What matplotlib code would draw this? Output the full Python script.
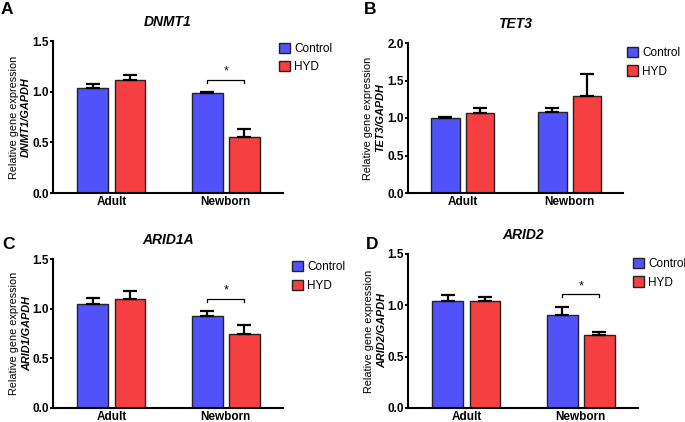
import numpy as np
import matplotlib
matplotlib.use("Agg")
import matplotlib.pyplot as plt
from matplotlib.patches import Patch

plt.rcParams['font.family'] = ['Liberation Sans', 'DejaVu Sans']

groups = ["Adult", "Newborn"]
series = ["Control", "HYD"]
colors = ["#5252FB", "#F63F41"]

genes = ["DNMT1", "TET3", "ARID1A", "ARID2"]
ylabel_genes = ["DNMT1", "TET3", "ARID1", "ARID2"]
letters = ["A", "B", "C", "D"]

# mean values [Control, HYD] per group
dnmt1_ctrl = [1.04, 0.99]
dnmt1_hyd = [1.12, 0.55]
dnmt1_ctrl_err = [0.04, 0.01]
dnmt1_hyd_err = [0.04, 0.08]

tet3_ctrl = [1.00, 1.08]
tet3_hyd = [1.07, 1.30]
tet3_ctrl_err = [0.02, 0.05]
tet3_hyd_err = [0.06, 0.29]

arid1a_ctrl = [1.05, 0.93]
arid1a_hyd = [1.10, 0.74]
arid1a_ctrl_err = [0.06, 0.05]
arid1a_hyd_err = [0.08, 0.10]

arid2_ctrl = [1.04, 0.91]
arid2_hyd = [1.04, 0.71]
arid2_ctrl_err = [0.06, 0.07]
arid2_hyd_err = [0.04, 0.03]

ymax = [1.5, 2.0, 1.5, 1.5]
yticks = [[0, 0.5, 1.0, 1.5], [0, 0.5, 1.0, 1.5, 2.0], [0, 0.5, 1.0, 1.5], [0, 0.5, 1.0, 1.5]]
sig_y = [1.12, None, 1.10, 1.11]

data = [
    (dnmt1_ctrl, dnmt1_hyd, dnmt1_ctrl_err, dnmt1_hyd_err),
    (tet3_ctrl, tet3_hyd, tet3_ctrl_err, tet3_hyd_err),
    (arid1a_ctrl, arid1a_hyd, arid1a_ctrl_err, arid1a_hyd_err),
    (arid2_ctrl, arid2_hyd, arid2_ctrl_err, arid2_hyd_err),
]

W, H = 685, 422
fig = plt.figure(figsize=(W / 100, H / 100), dpi=100)

# axes boxes in pixels: left, right, top, bottom
boxes = [(53, 283, 41, 193), (408, 623, 43, 193), (53, 283, 259, 408), (408, 638, 254, 408)]
legend_pos = [(0.983, 0.99), (1.019, 0.975), (1.039, 0.985), (0.978, 0.975)]
letter_pos = [(1, 2), (364, 2), (2, 237), (366, 237)]
# x pixel of the two ylabel lines
ylab_x = [(14, 26), (368, 380), (14, 27), (369, 382)]

bw = 0.27
off = 0.163

for i, (l, r, t, b) in enumerate(boxes):
    ax = fig.add_axes([l / W, (H - b) / H, (r - l) / W, (b - t) / H])
    ctrl, hyd, ctrl_err, hyd_err = data[i]
    x = np.arange(len(groups))
    ax.bar(x - off, ctrl, bw, color=colors[0], edgecolor="#222222", linewidth=1, zorder=2)
    ax.bar(x + off, hyd, bw, color=colors[1], edgecolor="#222222", linewidth=1, zorder=2)
    ax.errorbar(x - off, ctrl, yerr=[np.zeros(2), ctrl_err], fmt="none", ecolor="black",
                elinewidth=1.6, capsize=5.2, capthick=1.6, zorder=3)
    ax.errorbar(x + off, hyd, yerr=[np.zeros(2), hyd_err], fmt="none", ecolor="black",
                elinewidth=1.6, capsize=5.2, capthick=1.6, zorder=3)

    ax.set_xlim(-0.51, 1.50)
    ax.set_ylim(0, ymax[i])
    ax.set_yticks(yticks[i])
    ax.set_yticklabels([f"{v:.1f}" for v in yticks[i]], fontweight="bold", fontsize=8.5)
    ax.set_xticks(x)
    ax.set_xticklabels(groups, fontweight="bold", fontsize=8.5)
    ax.tick_params(axis="x", length=0, pad=2)
    ax.tick_params(axis="y", length=2.2, width=1.4, pad=0.8)
    for s in ["top", "right"]:
        ax.spines[s].set_visible(False)
    for s in ["left", "bottom"]:
        ax.spines[s].set_linewidth(1.5)

    if sig_y[i] is not None:
        y0 = sig_y[i]
        d = 0.03 * ymax[i] / 1.5
        x1, x2 = 1 - off, 1 + off
        ax.plot([x1, x1, x2, x2], [y0 - d, y0, y0, y0 - d], color="black", lw=0.9, zorder=3)
        ax.text(1, y0 + 0.02, "*", ha="center", va="bottom", fontsize=9)

    ax.set_title(genes[i], fontsize=10, fontweight="bold", style="italic", pad=11)

    # two-line y label, placed in figure pixels
    yc = 1 - (t + b) / 2 / H
    fig.text(ylab_x[i][0] / W, yc, "Relative gene expression", rotation=90,
             ha="center", va="center", fontsize=7.8)
    fig.text(ylab_x[i][1] / W, yc, f"{ylabel_genes[i]}/GAPDH", rotation=90,
             ha="center", va="center", fontsize=7.8, style="italic", fontweight="bold")

    handles = [Patch(facecolor=colors[k], edgecolor="#222222", linewidth=1, label=series[k]) for k in range(2)]
    ax.legend(handles=handles, loc="upper left", bbox_to_anchor=legend_pos[i], frameon=False,
              fontsize=8.5, handlelength=0.95, handleheight=0.95, handletextpad=0.35,
              labelspacing=0.55, borderpad=0, borderaxespad=0)

    lx, ly = letter_pos[i]
    fig.text(lx / W, 1 - ly / H, letters[i], fontsize=12.5, fontweight="bold", ha="left", va="top")

fig.savefig("out.png", dpi=100)
